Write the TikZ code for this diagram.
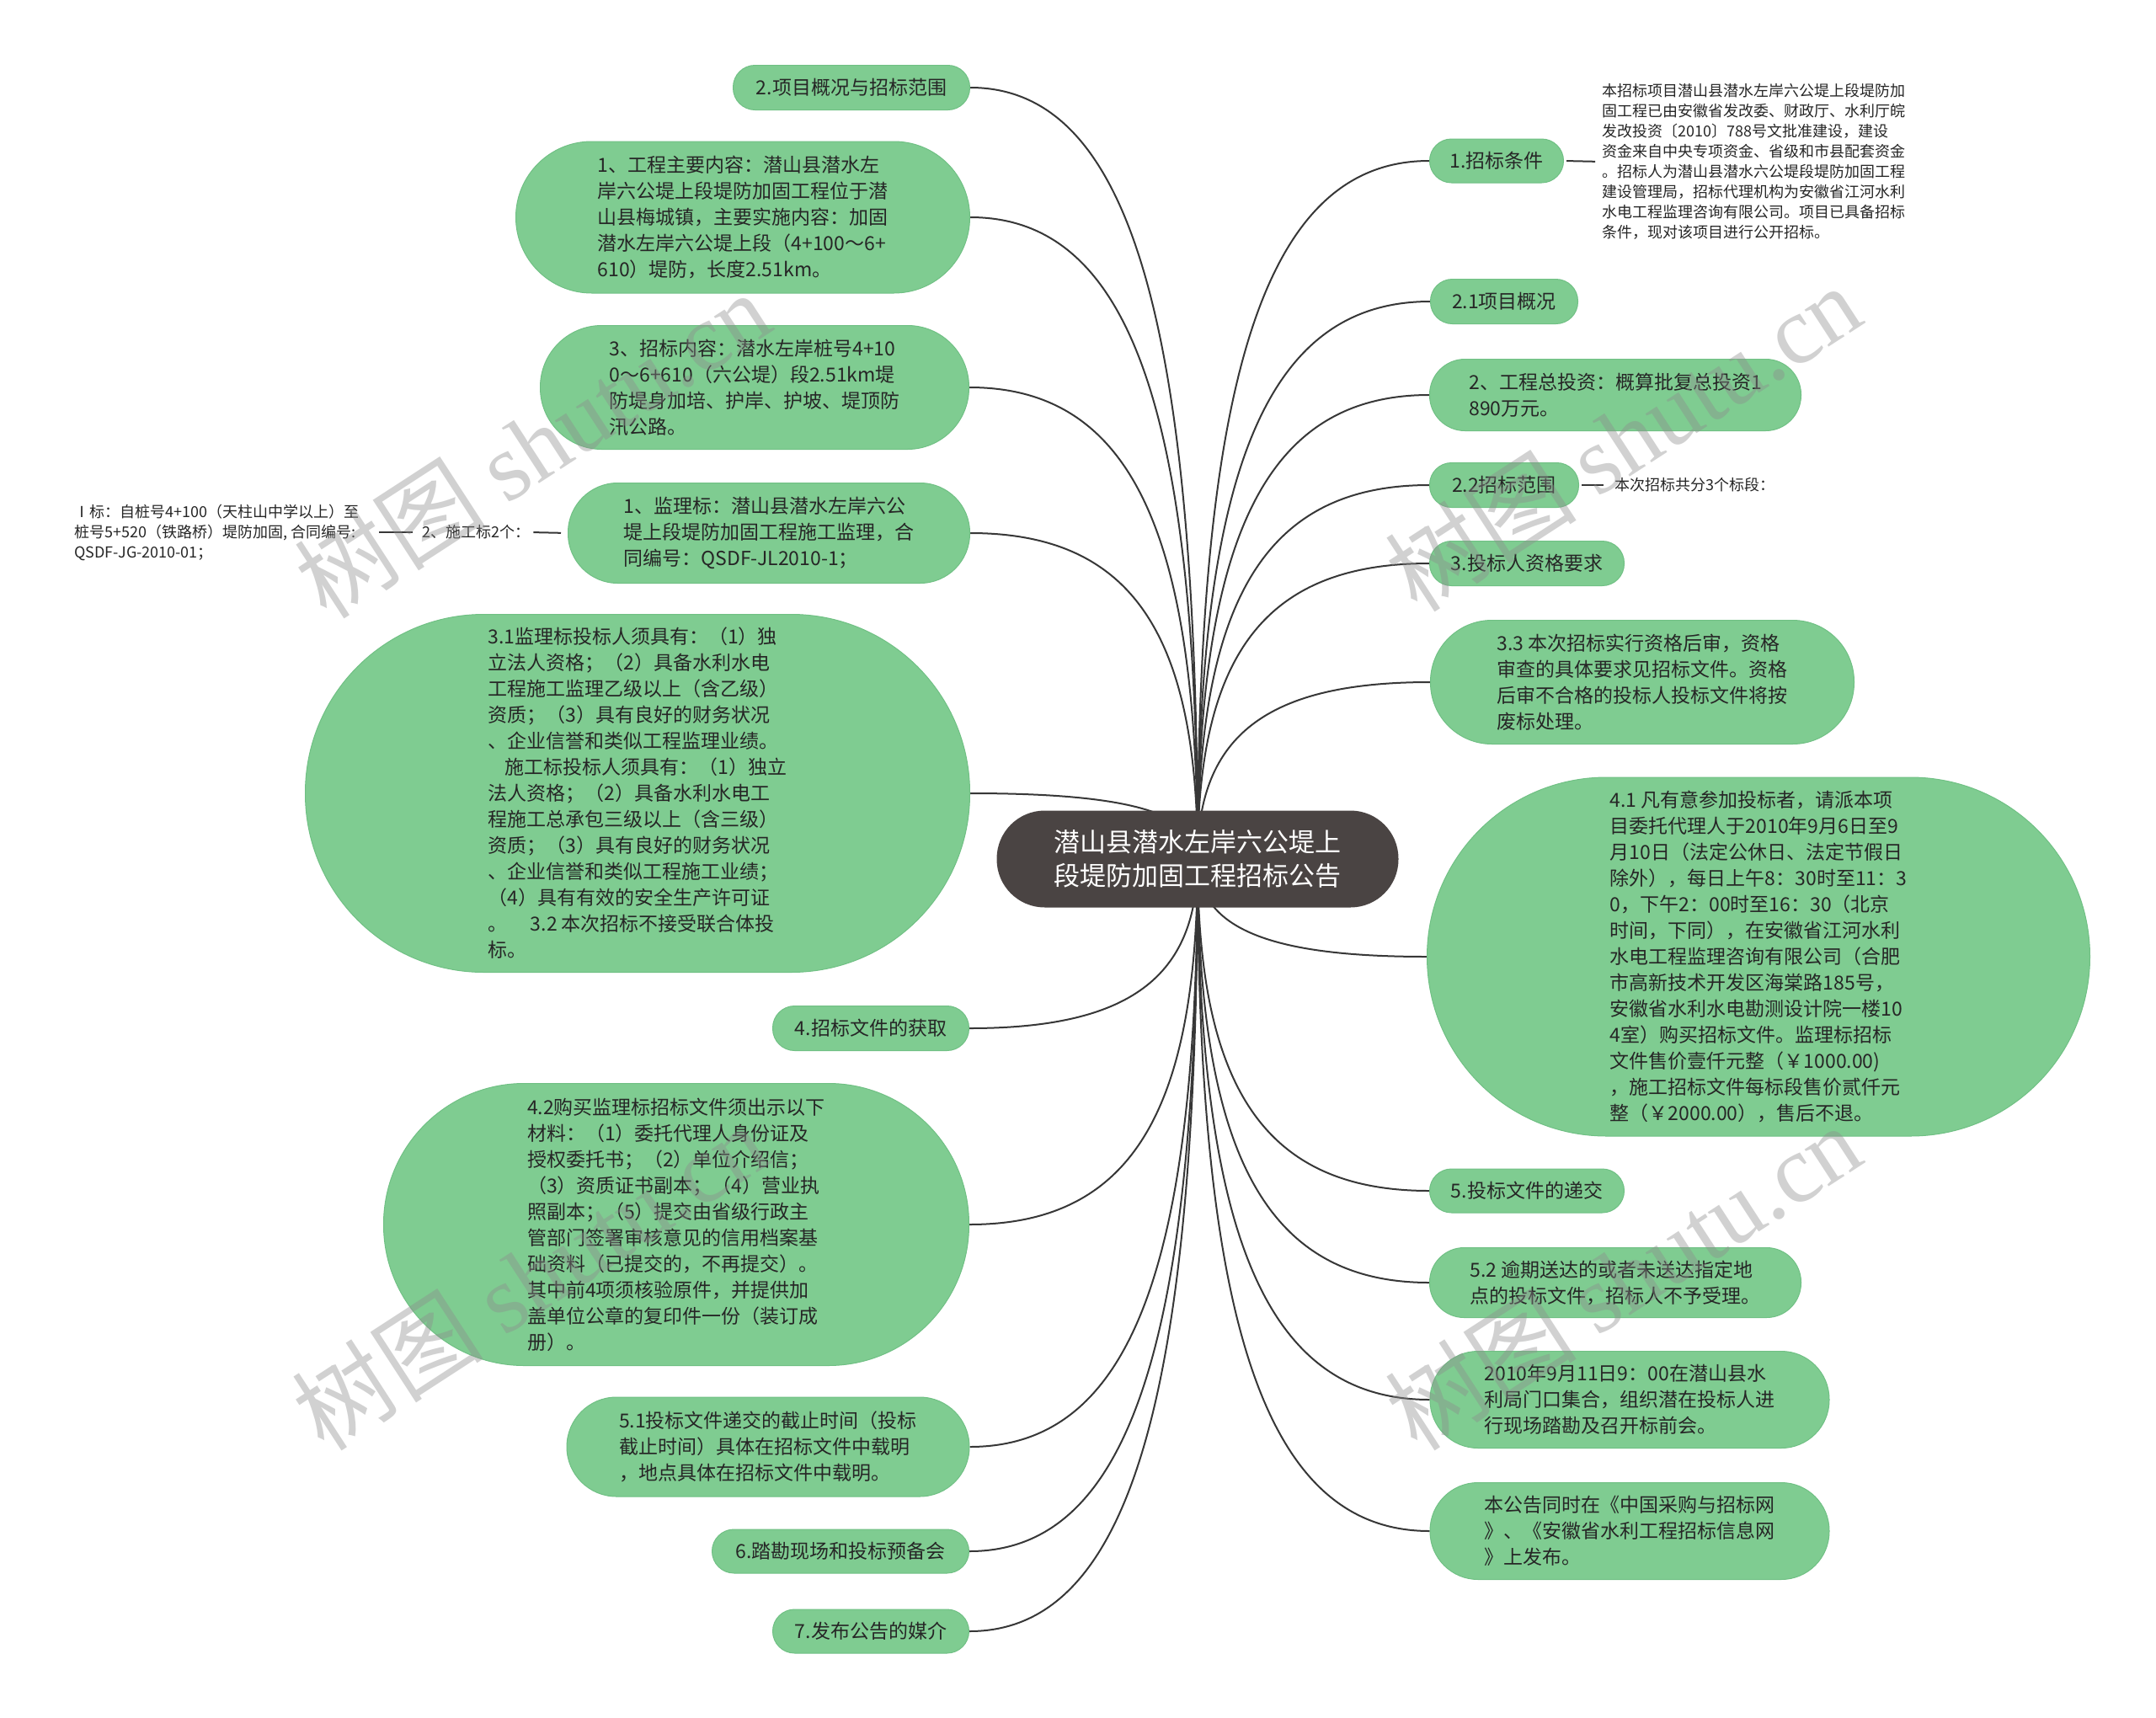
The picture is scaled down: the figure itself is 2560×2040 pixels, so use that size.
\documentclass[tikz,border=0pt]{standalone}
\usepackage{fontspec}
\setmainfont{Noto Sans CJK SC}
\newfontfamily\wmlatin{Liberation Serif}
\usetikzlibrary{calc,backgrounds}
\definecolor{leafgreen}{RGB}{127,204,145}
\definecolor{leafedge}{RGB}{112,192,132}
\definecolor{rootfill}{RGB}{74,68,67}
\definecolor{linecol}{RGB}{55,55,55}
\definecolor{txtcol}{RGB}{38,38,38}
\definecolor{wmcol}{RGB}{140,140,140}
\newcommand\leaffont{\fontsize{23}{31}\selectfont}
\newcommand\smallfont{\fontsize{18}{24}\selectfont}
\newcommand\rootfont{\fontsize{31}{40}\selectfont}
\newcommand\wmfont{\fontsize{114}{120}\selectfont}
\tikzset{
  pill/.style n args={3}{draw=leafedge, line width=1pt, fill=leafgreen, text=txtcol, font=\leaffont, align=left, inner sep=0pt, minimum width=#1pt, minimum height=#2pt, rounded corners=#3pt},
  rootbox/.style={fill=rootfill, text=white, font=\rootfont, align=center, inner sep=0pt, minimum width=477pt, minimum height=115pt, rounded corners=57pt},
  link/.style={draw=linecol, line width=2pt},
  smalltext/.style={text=txtcol, font=\smallfont, align=left, inner sep=0pt},
  shortlink/.style={draw=linecol, line width=2pt},
  wmark/.style={text=wmcol, opacity=0.4, font=\wmfont, rotate=33, inner sep=0pt}
}
\begin{document}
\begin{tikzpicture}[x=1pt,y=-1pt]
\useasboundingbox (0,0) rectangle (2560,2040);

% root
\node[rootbox] (root) at (1422,1020) {潜山县潜水左岸六公堤上\\段堤防加固工程招标公告};

% left branch
\node[pill={281}{53}{26}] (L1) at (1011,104) {2.项目概况与招标范围};
\node[pill={539}{180}{90}] (L2) at (882,258) {1、工程主要内容：潜山县潜水左\\岸六公堤上段堤防加固工程位于潜\\山县梅城镇，主要实施内容：加固\\潜水左岸六公堤上段（4+100～6+\\610）堤防，长度2.51km。};
\node[pill={509}{147}{73}] (L3) at (896,460) {3、招标内容：潜水左岸桩号4+10\\0～6+610（六公堤）段2.51km堤\\防堤身加培、护岸、护坡、堤顶防\\汛公路。};
\node[pill={477}{119}{59}] (L4) at (913,633) {1、监理标：潜山县潜水左岸六公\\堤上段堤防加固工程施工监理，合\\同编号：QSDF-JL2010-1；};
\node[smalltext, anchor=west] (L4a) at (501,632) {2、施工标2个：};
\node[smalltext, anchor=west] (L4b) at (88,632) {Ⅰ标：自桩号4+100（天柱山中学以上）至\\桩号5+520（铁路桥）堤防加固, 合同编号:\\QSDF-JG-2010-01；};
\node[pill={789}{425}{212}] (L5) at (757,942) {3.1监理标投标人须具有：（1）独\\立法人资格；（2）具备水利水电\\工程施工监理乙级以上（含乙级）\\资质；（3）具有良好的财务状况\\、企业信誉和类似工程监理业绩。\\\hspace*{0.9em}施工标投标人须具有：（1）独立\\法人资格；（2）具备水利水电工\\程施工总承包三级以上（含三级）\\资质；（3）具有良好的财务状况\\、企业信誉和类似工程施工业绩；\\（4）具有有效的安全生产许可证\\。\hspace*{1.2em}3.2 本次招标不接受联合体投\\标。};
\node[pill={233}{53}{26}] (L6) at (1034,1221) {4.招标文件的获取};
\node[pill={695}{335}{167}] (L7) at (803,1454) {4.2购买监理标招标文件须出示以下\\材料：（1）委托代理人身份证及\\授权委托书；（2）单位介绍信；\\（3）资质证书副本；（4）营业执\\照副本；（5）提交由省级行政主\\管部门签署审核意见的信用档案基\\础资料（已提交的，不再提交）。\\其中前4项须核验原件，并提供加\\盖单位公章的复印件一份（装订成\\册）。};
\node[pill={478}{118}{59}] (L8) at (912,1718) {5.1投标文件递交的截止时间（投标\\截止时间）具体在招标文件中载明\\，地点具体在招标文件中载明。};
\node[pill={305}{52}{26}] (L9) at (998,1842) {6.踏勘现场和投标预备会};
\node[pill={233}{52}{26}] (L10) at (1034,1937) {7.发布公告的媒介};

% right branch
\node[pill={159}{52}{26}] (R1) at (1777,191) {1.招标条件};
\node[smalltext, anchor=west] (R1d) at (1902,192) {本招标项目潜山县潜水左岸六公堤上段堤防加\\固工程已由安徽省发改委、财政厅、水利厅皖\\发改投资〔2010〕788号文批准建设，建设\\资金来自中央专项资金、省级和市县配套资金\\。招标人为潜山县潜水六公堤段堤防加固工程\\建设管理局，招标代理机构为安徽省江河水利\\水电工程监理咨询有限公司。项目已具备招标\\条件，现对该项目进行公开招标。};
\node[pill={175}{53}{26}] (R2) at (1786,358) {2.1项目概况};
\node[pill={441}{85}{42}] (R3) at (1918,469) {2、工程总投资：概算批复总投资1\\890万元。};
\node[pill={177}{53}{26}] (R4) at (1786,576) {2.2招标范围};
\node[smalltext, anchor=west] (R4d) at (1917,576) {本次招标共分3个标段：};
\node[pill={231}{53}{26}] (R5) at (1813,669) {3.投标人资格要求};
\node[pill={503}{147}{73}] (R6) at (1950,810) {3.3 本次招标实行资格后审，资格\\审查的具体要求见招标文件。资格\\后审不合格的投标人投标文件将按\\废标处理。};
\node[pill={787}{426}{213}] (R7) at (2088,1136) {4.1 凡有意参加投标者，请派本项\\目委托代理人于2010年9月6日至9\\月10日（法定公休日、法定节假日\\除外），每日上午8：30时至11：3\\0，下午2：00时至16：30（北京\\时间，下同），在安徽省江河水利\\水电工程监理咨询有限公司（合肥\\市高新技术开发区海棠路185号，\\安徽省水利水电勘测设计院一楼10\\4室）购买招标文件。监理标招标\\文件售价壹仟元整（￥1000.00)\\，施工招标文件每标段售价贰仟元\\整（￥2000.00），售后不退。};
\node[pill={231}{52}{26}] (R8) at (1813,1414) {5.投标文件的递交};
\node[pill={441}{83}{41}] (R9) at (1918,1523) {5.2 逾期送达的或者未送达指定地\\点的投标文件，招标人不予受理。};
\node[pill={474}{115}{57}] (R10) at (1935,1662) {2010年9月11日9：00在潜山县水\\利局门口集合，组织潜在投标人进\\行现场踏勘及召开标前会。};
\node[pill={474}{115}{57}] (R11) at (1935,1818) {本公告同时在《中国采购与招标网\\》、《安徽省水利工程招标信息网\\》上发布。};

% connectors
\begin{pgfonlayer}{background}
\fill[white] (0,0) rectangle (2560,2040);
\foreach \n in {L1,L2,L3,L4,L5,L6,L7,L8,L9,L10}
  \draw[link] (root.center) .. controls ($(root.center)!0.7!(root.center |- \n.east)$) and ($(\n.east)!0.7!(root.center |- \n.east)$) .. (\n.east);
\foreach \n in {R1,R2,R3,R4,R5,R6,R7,R8,R9,R10,R11}
  \draw[link] (root.center) .. controls ($(root.center)!0.7!(root.center |- \n.west)$) and ($(\n.west)!0.7!(root.center |- \n.west)$) .. (\n.west);
\end{pgfonlayer}
\draw[shortlink, shorten <=3pt, shorten >=8pt] (R1.east) -- (R1d.west);
\draw[shortlink, shorten <=3pt, shorten >=13pt] (R4.east) -- (R4d.west);
\draw[shortlink, shorten <=4pt, shorten >=8pt] (L4a.east) -- (L4.west);
\draw[shortlink, shorten <=24pt, shorten >=11pt] (L4b.east |- L4a.east) -- (L4a.west);

% watermarks
\node[wmark] (wm1) at (632,528) {树图 {\wmlatin shutu.cn}};
\node[wmark] (wm2) at (1927,520) {树图 {\wmlatin shutu.cn}};
\node[wmark] (wm3) at (629,1516) {树图 {\wmlatin shutu.cn}};
\node[wmark] (wm4) at (1927,1516) {树图 {\wmlatin shutu.cn}};
\end{tikzpicture}
\end{document}
